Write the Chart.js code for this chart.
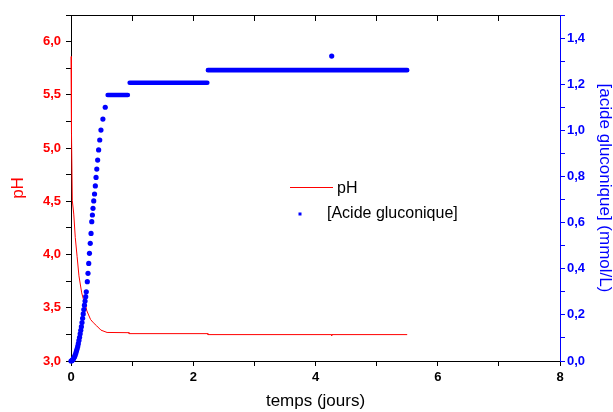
<!DOCTYPE html>
<html>
<head>
<meta charset="utf-8">
<script src="https://cdn.jsdelivr.net/npm/chart.js@4/dist/chart.umd.min.js"></script>
<style>
body { margin: 0; background: #fff; }
#wrap { position: relative; width: 613px; height: 412px; }
</style>
</head>
<body>
<div id="wrap"><canvas id="myChart"></canvas></div>
<script>
// pH (left axis)
var phTime = [0, 0.005, 0.011, 0.021, 0.045, 0.07, 0.1, 0.13, 0.175, 0.213, 0.23, 0.26, 0.32, 0.365, 0.42, 0.49, 0.59, 0.95, 0.951, 2.24, 2.241, 4.26, 4.265, 4.27, 5.5];
var phValues = [5.86, 5.5, 5.14, 4.51, 4.38, 4.16, 3.98, 3.8, 3.64, 3.56, 3.54, 3.47, 3.39, 3.36, 3.33, 3.29, 3.268, 3.266, 3.257, 3.257, 3.248, 3.248, 3.238, 3.248, 3.248];

// [acide gluconique] (right axis), single measured points
var acidTime = [0, 0.01, 0.02, 0.03, 0.04, 0.05, 0.06, 0.07, 0.08, 0.09, 0.1, 0.11, 0.12, 0.13, 0.14, 0.15, 0.16, 0.17, 0.18, 0.19, 0.2, 0.21, 0.22, 0.23, 0.24, 0.25,
    0.267, 0.278, 0.29, 0.302, 0.315, 0.328, 0.34, 0.35, 0.36, 0.372, 0.385, 0.398, 0.41, 0.422, 0.436, 0.452, 0.47, 0.49, 0.522, 0.56, 4.265];
var acidValues = [0, 0.001, 0.003, 0.006, 0.01, 0.015, 0.02, 0.027, 0.035, 0.044, 0.053, 0.063, 0.075, 0.089, 0.103, 0.118, 0.133, 0.149, 0.167, 0.185, 0.204, 0.223, 0.242, 0.26, 0.279, 0.3,
    0.344, 0.38, 0.423, 0.467, 0.51, 0.553, 0.604, 0.633, 0.662, 0.694, 0.724, 0.759, 0.796, 0.832, 0.871, 0.915, 0.958, 1.001, 1.049, 1.1, 1.322];

// plateaus where the points are so dense they form a bar
var plateauStart = [0.6, 0.96, 2.24];
var plateauEnd = [0.93, 2.23, 5.5];
var plateauLevel = [1.153, 1.206, 1.261];

var xTicks = [0, 2, 4, 6, 8];

var font = '"Liberation Sans", Arial, sans-serif';

function comma(v) {
    return v.toFixed(1).replace('.', ',');
}

var phData = [];
for (var i = 0; i < phTime.length; i++) phData.push({x: phTime[i], y: phValues[i]});
var acidData = [];
for (var i = 0; i < acidTime.length; i++) acidData.push({x: acidTime[i], y: acidValues[i]});
var plateauData = [];
for (var i = 0; i < plateauStart.length; i++) {
    plateauData.push({x: plateauStart[i], y: plateauLevel[i]});
    plateauData.push({x: plateauEnd[i], y: plateauLevel[i]});
    plateauData.push({x: plateauEnd[i], y: null});
}

var legendBox = {
    id: 'legendBox',
    afterDraw: function(chart) {
        var ctx = chart.ctx;
        ctx.save();
        ctx.strokeStyle = '#ff0000';
        ctx.lineWidth = 1;
        ctx.beginPath();
        ctx.moveTo(290, 187.5);
        ctx.lineTo(333, 187.5);
        ctx.stroke();
        ctx.fillStyle = '#0000ff';
        ctx.fillRect(298.5, 212.5, 3, 3);
        ctx.fillStyle = '#000';
        ctx.font = '16px ' + font;
        ctx.textBaseline = 'middle';
        ctx.fillText(chart.data.datasets[2].label, 337, 189);
        ctx.fillText(chart.data.datasets[0].label, 327, 213.5);
        ctx.restore();
    }
};

var ctx = document.getElementById('myChart').getContext('2d');
var myChart = new Chart(ctx, {
    type: 'scatter',
    data: {
        datasets: [{
                label: '[Acide gluconique]',
                data: acidData,
                yAxisID: 'y2',
                showLine: false,
                pointRadius: 2.6,
                pointBorderWidth: 0,
                backgroundColor: '#0000ff',
                borderColor: '#0000ff',
                clip: 6
            },
            {
                label: 'plateaux',
                data: plateauData,
                yAxisID: 'y2',
                showLine: true,
                spanGaps: false,
                pointRadius: 0,
                borderWidth: 4.6,
                borderColor: '#0000ff',
                borderCapStyle: 'round',
                clip: 6
            },
            {
                label: 'pH',
                data: phData,
                yAxisID: 'y',
                showLine: true,
                pointRadius: 0,
                borderWidth: 1,
                borderColor: '#ff0000',
                clip: 6
            }
        ]
    },
    options: {
        responsive: true,
        maintainAspectRatio: false,
        animation: false,
        layout: { padding: 0 },
        plugins: {
            legend: { display: false },
            tooltip: { enabled: false }
        },
        scales: {
            x: {
                type: 'linear',
                position: 'bottom',
                min: 0,
                max: 8,
                afterFit: function(s) { s.height = 51; },
                border: { color: '#000', width: 1 },
                grid: { drawOnChartArea: false, color: '#000', tickLength: 5 },
                ticks: {
                    stepSize: 1,
                    autoSkip: false,
                    maxRotation: 0,
                    padding: 4,
                    color: '#000',
                    font: { family: font, size: 13, weight: 'bold' },
                    callback: function(v) { return xTicks.indexOf(v) >= 0 ? String(v) : ''; }
                },
                title: {
                    display: true,
                    text: 'temps (jours)',
                    color: '#000',
                    padding: 0,
                    font: { family: font, size: 17, lineHeight: 1.2 }
                }
            },
            xTop: {
                type: 'linear',
                position: 'top',
                min: 0,
                max: 8,
                afterFit: function(s) { s.height = 15; },
                border: { color: '#000', width: 1 },
                grid: { drawOnChartArea: false, color: '#000', tickLength: -6 },
                ticks: {
                    stepSize: 1,
                    autoSkip: false,
                    callback: function() { return ''; }
                }
            },
            y: {
                type: 'linear',
                position: 'left',
                min: 3,
                max: 6.25,
                afterFit: function(s) { s.width = 71; },
                border: { color: '#000', width: 1 },
                grid: { drawOnChartArea: false, color: '#000', tickLength: 5 },
                ticks: {
                    stepSize: 0.25,
                    autoSkip: false,
                    padding: 5,
                    color: '#ff0000',
                    font: { family: font, size: 13, weight: 'bold' },
                    callback: function(v) {
                        return Math.abs(v * 2 - Math.round(v * 2)) < 1e-6 ? comma(v) : '';
                    }
                },
                title: {
                    display: true,
                    text: 'pH',
                    color: '#ff0000',
                    padding: { top: 8 },
                    font: { family: font, size: 17, lineHeight: 1.2 }
                }
            },
            y2: {
                type: 'linear',
                position: 'right',
                min: 0,
                max: 1.5,
                afterFit: function(s) { s.width = 53; },
                border: { color: '#0000ff', width: 1 },
                grid: { drawOnChartArea: false, color: '#0000ff', tickLength: 5 },
                ticks: {
                    stepSize: 0.1,
                    autoSkip: false,
                    padding: 2,
                    color: '#0000ff',
                    font: { family: font, size: 13, weight: 'bold' },
                    callback: function(v) {
                        return Math.abs(v * 5 - Math.round(v * 5)) < 1e-6 ? comma(v) : '';
                    }
                },
                title: {
                    display: true,
                    text: '[acide gluconique] (mmol/L)',
                    color: '#0000ff',
                    padding: 0,
                    font: { family: font, size: 17, lineHeight: 1 }
                }
            }
        }
    },
    plugins: [legendBox]
});
</script>
</body>
</html>
